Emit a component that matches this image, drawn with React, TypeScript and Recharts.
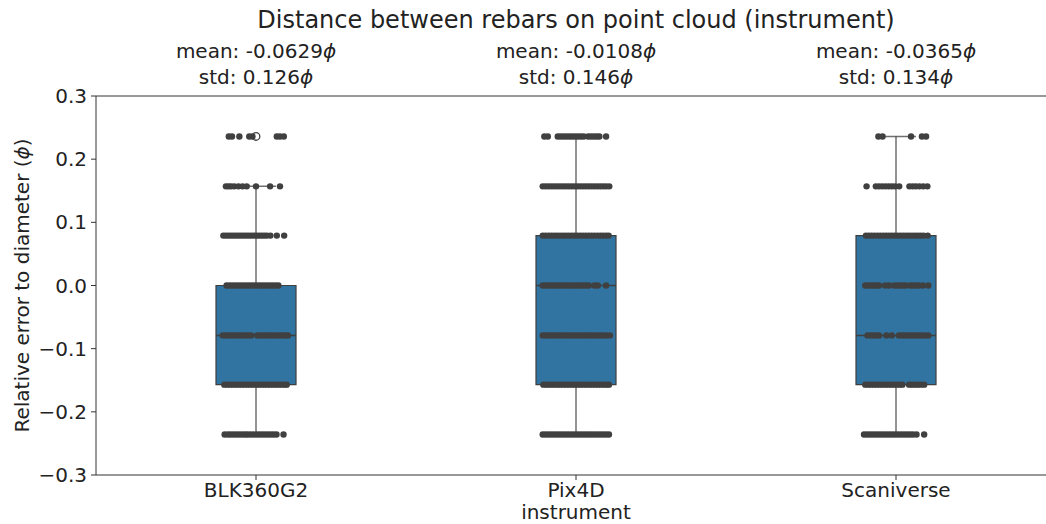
import {
  ComposedChart,
  Scatter,
  XAxis,
  YAxis,
  ReferenceArea,
  ReferenceLine,
  ReferenceDot,
} from "recharts";

const categories = ["BLK360G2", "Pix4D", "Scaniverse"];
const levels = [-0.236, -0.157, -0.079, 0, 0.079, 0.157, 0.236];
const yTicks = [-0.3, -0.2, -0.1, 0, 0.1, 0.2, 0.3];

const means = [-0.0629, -0.0108, -0.0365];
const stds = [0.126, 0.146, 0.134];

// box stats per instrument
const q1 = [-0.157, -0.157, -0.157];
const medians = [-0.079, 0, -0.079];
const q3 = [0, 0.079, 0.079];
const whiskerLow = [-0.236, -0.236, -0.236];
const whiskerHigh = [0.157, 0.236, 0.236];
const fliers = [[0.236], [], []];

// strip-plot jitter (fraction of category width), one list per level
const blkJitter = [
  [-0.098, -0.088, -0.079, -0.07, -0.061, -0.052, -0.043, -0.034, -0.026, -0.017, -0.008, 0.001, 0.01, 0.019, 0.028, 0.037, 0.046, 0.055, 0.064, 0.086],
  [-0.099, -0.09, -0.081, -0.072, -0.063, -0.054, -0.045, -0.036, -0.027, -0.018, -0.009, 0, 0.009, 0.018, 0.027, 0.036, 0.045, 0.054, 0.063, 0.072, 0.081, 0.09, 0.096],
  [-0.104, -0.095, -0.086, -0.077, -0.068, -0.059, -0.05, -0.041, -0.032, -0.023, -0.015, 0.004, 0.013, 0.022, 0.031, 0.04, 0.049, 0.058, 0.067, 0.076, 0.085, 0.094, 0.1],
  [-0.092, -0.083, -0.074, -0.065, -0.056, -0.047, -0.038, -0.029, -0.02, -0.011, -0.002, 0.007, 0.016, 0.025, 0.034, 0.043, 0.052, 0.061, 0.07],
  [-0.102, -0.094, -0.086, -0.078, -0.07, -0.062, -0.054, -0.046, -0.038, -0.03, -0.022, -0.014, -0.006, 0.002, 0.01, 0.018, 0.026, 0.034, 0.045, 0.065, 0.088],
  [-0.094, -0.086, -0.078, -0.068, -0.055, -0.042, -0.029, 0, 0.044, 0.075],
  [-0.085, -0.075, -0.052, -0.021, -0.011, 0.065, 0.075, 0.087],
];

const pix4dJitter = [
  [-0.104, -0.095, -0.086, -0.077, -0.068, -0.059, -0.05, -0.041, -0.032, -0.023, -0.014, -0.005, 0.004, 0.013, 0.022, 0.031, 0.04, 0.049, 0.058, 0.067, 0.076, 0.085, 0.094, 0.103],
  [-0.102, -0.093, -0.084, -0.075, -0.066, -0.057, -0.048, -0.039, -0.03, -0.021, -0.012, -0.003, 0.006, 0.015, 0.024, 0.033, 0.042, 0.051, 0.06, 0.069, 0.078, 0.087, 0.096, 0.103],
  [-0.104, -0.095, -0.086, -0.077, -0.068, -0.059, -0.05, -0.041, -0.032, -0.023, -0.014, -0.005, 0.004, 0.013, 0.022, 0.031, 0.04, 0.049, 0.058, 0.067, 0.076, 0.085, 0.094, 0.106],
  [-0.104, -0.095, -0.086, -0.077, -0.068, -0.059, -0.05, -0.041, -0.032, -0.023, -0.014, -0.005, 0.004, 0.013, 0.022, 0.031, 0.04, 0.058, 0.068, 0.094],
  [-0.104, -0.095, -0.086, -0.077, -0.068, -0.059, -0.05, -0.041, -0.032, -0.023, -0.014, -0.005, 0.004, 0.013, 0.022, 0.031, 0.04, 0.049, 0.058, 0.067, 0.076, 0.085, 0.094, 0.102],
  [-0.104, -0.095, -0.086, -0.077, -0.068, -0.059, -0.05, -0.041, -0.032, -0.023, -0.014, -0.005, 0.004, 0.013, 0.022, 0.031, 0.04, 0.049, 0.058, 0.067, 0.076, 0.085, 0.094, 0.104],
  [-0.099, -0.088, -0.057, -0.048, -0.039, -0.03, -0.021, -0.012, -0.003, 0.006, 0.015, 0.024, 0.038, 0.047, 0.056, 0.065, 0.073, 0.094],
];

const scaniverseJitter = [
  [-0.1, -0.091, -0.082, -0.073, -0.064, -0.055, -0.046, -0.037, -0.028, -0.019, -0.01, -0.001, 0.008, 0.017, 0.026, 0.035, 0.044, 0.053, 0.064, 0.088],
  [-0.096, -0.087, -0.078, -0.069, -0.06, -0.051, -0.042, -0.033, -0.024, -0.015, -0.006, 0.003, 0.012, 0.02, 0.041, 0.05, 0.059, 0.068, 0.078, 0.088],
  [-0.089, -0.08, -0.071, -0.062, -0.053, -0.03, -0.013, 0.009, 0.018, 0.027, 0.036, 0.045, 0.054, 0.063, 0.072, 0.081, 0.09, 0.101],
  [-0.096, -0.087, -0.078, -0.069, -0.06, -0.053, -0.034, -0.022, -0.006, 0.003, 0.012, 0.021, 0.03, 0.044, 0.053, 0.062, 0.071, 0.084, 0.101],
  [-0.094, -0.085, -0.076, -0.067, -0.058, -0.049, -0.04, -0.031, -0.022, -0.013, -0.004, 0.005, 0.014, 0.023, 0.032, 0.041, 0.05, 0.059, 0.068, 0.077, 0.086, 0.099],
  [-0.092, -0.063, -0.053, -0.043, -0.033, -0.023, -0.013, -0.003, 0.01, 0.042, 0.052, 0.062, 0.073, 0.085, 0.098],
  [-0.055, -0.042, 0.047, 0.081, 0.094],
];

const jitters = [blkJitter, pix4dJitter, scaniverseJitter];

const points = jitters.flatMap((rows, ci) =>
  rows.flatMap((row, li) => row.map((j) => ({ x: ci + j, y: levels[li] })))
);

const BOX_HALF = 0.125;
const CAP_HALF = 0.0625;
const FONT = "DejaVu Sans, sans-serif";
const TEXT = "#222";
const LINE = "#3f3f3f";

const fmtY = (v: number) => (v < 0 ? "\u2212" : "") + Math.abs(v).toFixed(1);

const Phi = () => <tspan fontStyle="italic">ϕ</tspan>;

export default function App() {
  return (
    <div
      style={{
        position: "absolute",
        left: 0,
        top: 0,
        width: 1046,
        height: 524,
        overflow: "hidden",
        background: "#fff",
        fontFamily: FONT,
      }}
    >
      <div
        style={{
          position: "absolute",
          left: 96,
          width: 960,
          top: 8,
          textAlign: "center",
          fontSize: 24,
          lineHeight: "24px",
          color: TEXT,
        }}
      >
        Distance between rebars on point cloud (instrument)
      </div>
      <ComposedChart
        width={1070}
        height={524}
        margin={{ top: 96, right: 14, bottom: 0, left: 0 }}
        style={{ fontFamily: FONT }}
      >
        <XAxis
          type="number"
          dataKey="x"
          domain={[-0.5, 2.5]}
          ticks={[0, 1, 2]}
          tickFormatter={(i) => categories[i] ?? ""}
          allowDataOverflow
          height={49}
          tickSize={5}
          tickMargin={3}
          stroke="#333"
          tick={{ fill: TEXT, fontSize: 20 }}
          label={{
            content: ({ viewBox }: any) => (
              <text
                x={viewBox.x + viewBox.width / 2}
                y={viewBox.y + 44}
                textAnchor="middle"
                fontSize={20}
                fill={TEXT}
              >
                instrument
              </text>
            ),
          }}
        />
        <YAxis
          type="number"
          dataKey="y"
          domain={[-0.3, 0.3]}
          ticks={yTicks}
          tickFormatter={fmtY}
          allowDataOverflow
          width={96}
          tickSize={5}
          tickMargin={4}
          stroke="#333"
          tick={{ fill: TEXT, fontSize: 20 }}
          label={{
            content: ({ viewBox }: any) => {
              const cy = viewBox.y + viewBox.height / 2;
              return (
                <text
                  x={22}
                  y={cy}
                  transform={`rotate(-90 22 ${cy})`}
                  textAnchor="middle"
                  dominantBaseline="central"
                  fontSize={20}
                  fill={TEXT}
                >
                  Relative error to diameter (<Phi />)
                </text>
              );
            },
          }}
        />

        {/* top spine */}
        <ReferenceLine y={0.3} stroke="#333" strokeWidth={1} zIndex={500} />

        {/* boxes */}
        {categories.map((c, i) => (
          <ReferenceArea
            key={`box-${c}`}
            x1={i - BOX_HALF}
            x2={i + BOX_HALF}
            y1={q1[i]}
            y2={q3[i]}
            fill="#3274a1"
            fillOpacity={1}
            stroke={LINE}
            strokeWidth={1.2}
            zIndex={100}
          />
        ))}
        {categories.map((c, i) => (
          <ReferenceLine
            key={`wl-${c}`}
            segment={[{ x: i, y: whiskerLow[i] }, { x: i, y: q1[i] }]}
            stroke={LINE}
            strokeOpacity={0.75}
            strokeWidth={1.5}
            zIndex={150}
          />
        ))}
        {categories.map((c, i) => (
          <ReferenceLine
            key={`wh-${c}`}
            segment={[{ x: i, y: q3[i] }, { x: i, y: whiskerHigh[i] }]}
            stroke={LINE}
            strokeOpacity={0.75}
            strokeWidth={1.5}
            zIndex={150}
          />
        ))}
        {categories.map((c, i) => (
          <ReferenceLine
            key={`cl-${c}`}
            segment={[{ x: i - CAP_HALF, y: whiskerLow[i] }, { x: i + CAP_HALF, y: whiskerLow[i] }]}
            stroke={LINE}
            strokeOpacity={0.75}
            strokeWidth={1.5}
            zIndex={150}
          />
        ))}
        {categories.map((c, i) => (
          <ReferenceLine
            key={`ch-${c}`}
            segment={[{ x: i - CAP_HALF, y: whiskerHigh[i] }, { x: i + CAP_HALF, y: whiskerHigh[i] }]}
            stroke={LINE}
            strokeOpacity={0.75}
            strokeWidth={1.5}
            zIndex={150}
          />
        ))}
        {categories.map((c, i) => (
          <ReferenceLine
            key={`med-${c}`}
            segment={[{ x: i - BOX_HALF, y: medians[i] }, { x: i + BOX_HALF, y: medians[i] }]}
            stroke={LINE}
            strokeWidth={1.5}
            zIndex={150}
          />
        ))}

        <Scatter
          data={points}
          isAnimationActive={false}
          zIndex={600}
          shape={(p: any) => <circle cx={p.cx} cy={p.cy} r={3.2} fill="#404040" />}
        />

        {categories.flatMap((c, i) =>
          fliers[i].map((f, k) => (
            <ReferenceDot
              key={`fl-${c}-${k}`}
              x={i}
              y={f}
              r={3.8}
              fill="none"
              stroke={LINE}
              strokeWidth={1.3}
              zIndex={700}
            />
          ))
        )}

        {/* mean / std annotations above each box */}
        {categories.map((c, i) => (
          <ReferenceDot
            key={`ann-${c}`}
            x={i}
            y={0.3}
            r={0}
            fill="none"
            stroke="none"
            ifOverflow="visible"
            zIndex={2000}
            label={{
              content: ({ viewBox }: any) => {
                const cx = viewBox.x + (viewBox.width || 0) / 2;
                const top = viewBox.y;
                return (
                  <g>
                    <text x={cx} y={top - 38} textAnchor="middle" fontSize={20} fill={TEXT}>
                      {`mean: ${means[i].toFixed(4)}`}
                      <Phi />
                    </text>
                    <text x={cx} y={top - 12} textAnchor="middle" fontSize={20} fill={TEXT}>
                      {`std: ${stds[i].toFixed(3)}`}
                      <Phi />
                    </text>
                  </g>
                );
              },
            }}
          />
        ))}
      </ComposedChart>
    </div>
  );
}
